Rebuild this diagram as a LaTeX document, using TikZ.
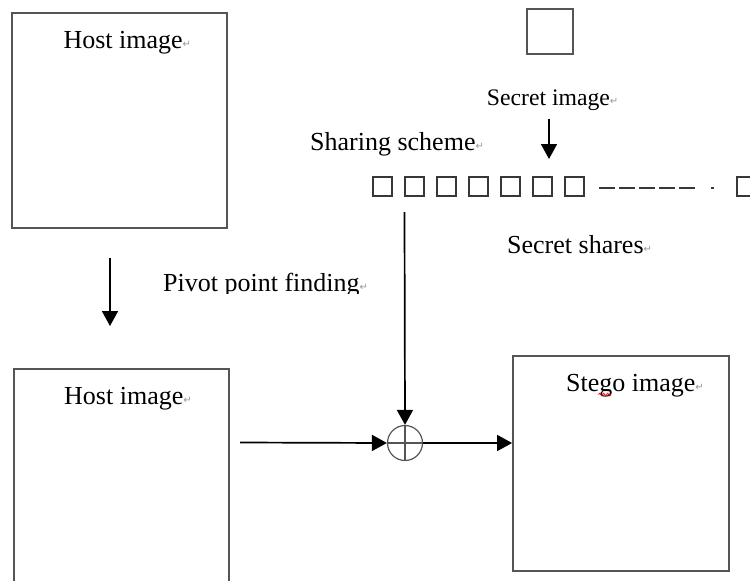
\documentclass[tikz,border=0pt]{standalone}
\usepackage{fontspec}
\setmainfont{Liberation Serif}
\newfontfamily\symfont{DejaVu Sans}
\usetikzlibrary{arrows.meta,decorations.pathmorphing}
\definecolor{boxgray}{RGB}{85,85,85}
\definecolor{sharegray}{RGB}{55,55,55}
\definecolor{markgray}{RGB}{150,150,150}
\newcommand\parmk{{\symfont\fontsize{10}{10}\selectfont\color{markgray}\raisebox{1pt}{↵}}}
\begin{document}
\begin{tikzpicture}[x=1pt,y=-1pt,
  imgbox/.style={draw=boxgray, line width=1.8pt, inner sep=0pt},
  boxline/.style={draw=boxgray, line width=1.8pt},
  sharebox/.style={draw=sharegray, line width=1.7pt, minimum width=19pt, minimum height=19pt, inner sep=0pt},
  lbl/.style={anchor=base west, inner sep=0pt, font=\fontsize{26}{30}\selectfont},
  lblsmall/.style={anchor=base west, inner sep=0pt, font=\fontsize{23.7}{28}\selectfont},
  arr/.style={draw=black, line width=1.7pt, -{Triangle[length=15pt,width=16pt]}},
]
\useasboundingbox (0,0) rectangle (750,581);

% top-left host image
\node[imgbox, minimum width=215pt, minimum height=215pt] (host1) at (119.5,120.5) {};
\node[lbl] (host1t) at (63.3,48.3) {Host image\parmk};

% secret image
\node[imgbox, line width=1.6pt, minimum width=46pt, minimum height=45pt] (secret) at (550,31.5) {};
\node[lblsmall] (secrett) at (486.7,105) {Secret image\parmk};
\coordinate (sa1) at (549,119);
\coordinate (sa2) at (549,159);
\draw[arr] (sa1) -- (sa2);

% sharing scheme
\node[lbl] (sharing) at (310,150) {Sharing scheme\parmk};

% shares
\foreach \k in {0,...,6} {
  \node[sharebox] (s\k) at (382.2+32*\k,186.7) {};
}
\coordinate (d1) at (599.3,188.3);
\coordinate (d2) at (695,188.3);
\draw[sharegray, line width=1.7pt, dash pattern=on 15.7pt off 4.3pt] (d1) -- (d2);
\coordinate (dot1) at (710.7,188.3);
\coordinate (dot2) at (714,188.3);
\draw[sharegray, line width=1.7pt] (dot1) -- (dot2);
\node[sharebox] (sn) at (746.8,186.7) {};

\node[lbl] (shares) at (507,253) {Secret shares\parmk};

% pivot point finding
\begin{scope}
  \clip (150,255) rectangle (400,293.4);
  \node[lbl] (pivot) at (163,291.7) {Pivot point finding\parmk};
\end{scope}
\coordinate (pv1) at (110,258);
\coordinate (pv2) at (110,326);
\draw[arr] (pv1) -- (pv2);

% bottom-left host image (cut at bottom)
\coordinate (h2a) at (14,581);
\coordinate (h2b) at (14,369.3);
\coordinate (h2c) at (229,369.3);
\coordinate (h2d) at (229,581);
\draw[boxline] (h2a) -- (h2b) -- (h2c) -- (h2d);
\node[lbl] (host2t) at (64,404) {Host image\parmk};

% stego image
\node[imgbox, minimum width=216pt, minimum height=215pt] (stego) at (621,463.5) {};
\node[lbl] (stegot) at (566,391) {Stego image\parmk};
\coordinate (sq1) at (598.5,394.5);
\coordinate (sq2) at (611,394.5);
\draw[red, line width=0.8pt, decorate, decoration={snake, amplitude=1.2pt, segment length=4pt}] (sq1) -- (sq2);

% xor
\node[circle, draw=boxgray, line width=1.2pt, minimum size=35pt, inner sep=0pt] (xor) at (405,443) {};
\draw[boxgray, line width=1.2pt] (xor.north) -- (xor.south) (xor.west) -- (xor.east);

\coordinate (vtop) at (404.5,212);
\draw[arr] (vtop) -- (xor.north);
\coordinate (hin) at (240,442.5);
\draw[arr] (hin) -- (xor.west);
\draw[arr] (xor.east) -- (xor.east -| stego.west);
\end{tikzpicture}
\end{document}
